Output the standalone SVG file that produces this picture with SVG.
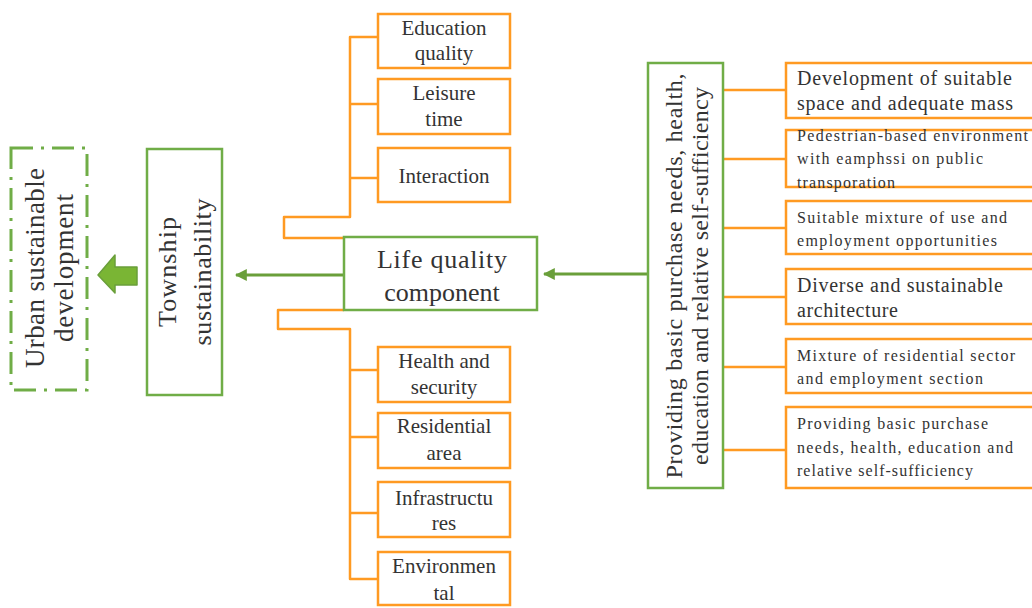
<svg xmlns="http://www.w3.org/2000/svg" width="1032" height="608" viewBox="0 0 1032 608">
<defs>
<style>
.g{fill:#fff;stroke:#70AD47;stroke-width:2.5}
.o{fill:#fff;stroke:#FF9A22;stroke-width:2.5}
.ol{fill:none;stroke:#FF9A22;stroke-width:2.5;stroke-linejoin:round}
.gl{fill:none;stroke:#6A9F3A;stroke-width:3}
.t text{fill:#333}
.c{text-anchor:middle}
.big{font-size:26px}
.mid{font-size:21px}
.r1{font-size:20px}
.r2{font-size:16px}
</style>
<marker id="ah" viewBox="0 0 10 10" refX="9" refY="5" markerWidth="4" markerHeight="4" orient="auto-start-reverse">
<path d="M0,0 L10,5 L0,10 z" fill="#6A9F3A"/>
</marker>
</defs>
<rect width="1032" height="608" fill="#fff"/>

<g id="connectors">
<polyline class="ol" points="345,238 284,238 284,217 350,217 350,37 378,37"/>
<line class="ol" x1="350" y1="104" x2="378" y2="104"/>
<line class="ol" x1="350" y1="178" x2="378" y2="178"/>
<polyline class="ol" points="344,310 278,310 278,329 350,329 350,579 378,579"/>
<line class="ol" x1="350" y1="370" x2="378" y2="370"/>
<line class="ol" x1="350" y1="437" x2="378" y2="437"/>
<line class="ol" x1="350" y1="513" x2="378" y2="513"/>
<line class="ol" x1="723" y1="90" x2="786" y2="90"/>
<line class="ol" x1="723" y1="159" x2="786" y2="159"/>
<line class="ol" x1="723" y1="228" x2="786" y2="228"/>
<line class="ol" x1="723" y1="297" x2="786" y2="297"/>
<line class="ol" x1="723" y1="367" x2="786" y2="367"/>
<line class="ol" x1="723" y1="450" x2="786" y2="450"/>
<line class="gl" x1="343" y1="275" x2="236" y2="275" marker-end="url(#ah)"/>
<line class="gl" x1="648" y1="274" x2="544" y2="274" marker-end="url(#ah)"/>
<path d="M98,275 L115,255 L115,267 L137,267 L137,285 L115,285 L115,293 z" fill="#7AB534" stroke="#6A9F3A" stroke-width="1.5" stroke-linejoin="round"/>
</g>

<g class="t" font-family="'Liberation Serif', 'DejaVu Serif', serif">
<g id="urban">
<rect x="11" y="148" width="76" height="242" fill="none" stroke="#70AD47" stroke-width="3" stroke-dasharray="22 8 3 8"/>
<g transform="translate(48,268) rotate(-90)">
<text class="c" x="0" y="-4" font-size="27" textLength="200">Urban sustainable</text>
<text class="c" x="0" y="25" font-size="27" textLength="148">development</text>
</g>
</g>

<g id="township">
<rect class="g" x="147" y="149" width="75" height="246"/>
<g transform="translate(185,272) rotate(-90)">
<text class="c" x="0" y="-9" font-size="26" textLength="110">Township</text>
<text class="c" x="0" y="26" font-size="26" textLength="147">sustainability</text>
</g>
</g>

<g id="lifequality">
<rect class="g" x="344" y="237" width="193" height="73"/>
<text class="c big" x="442" y="268" textLength="130">Life quality</text>
<text class="c big" x="442" y="301">component</text>
</g>

<g id="education"><rect class="o" x="378" y="14" width="132" height="54"/>
<text class="c mid" x="444" y="35">Education</text><text class="c mid" x="444" y="60">quality</text></g>
<g id="leisure"><rect class="o" x="378" y="79" width="132" height="55"/>
<text class="c mid" x="444" y="100">Leisure</text><text class="c mid" x="444" y="126">time</text></g>
<g id="interaction"><rect class="o" x="378" y="148" width="132" height="54"/>
<text class="c mid" x="444" y="183">Interaction</text></g>
<g id="health"><rect class="o" x="378" y="347" width="132" height="55"/>
<text class="c mid" x="444" y="368">Health and</text><text class="c mid" x="444" y="394">security</text></g>
<g id="residential"><rect class="o" x="378" y="413" width="132" height="55"/>
<text class="c mid" x="444" y="433">Residential</text><text class="c mid" x="444" y="460">area</text></g>
<g id="infrastructures"><rect class="o" x="378" y="482" width="132" height="55"/>
<text class="c mid" x="444" y="505">Infrastructu</text><text class="c mid" x="444" y="530">res</text></g>
<g id="environmental"><rect class="o" x="378" y="552" width="132" height="53"/>
<text class="c mid" x="444" y="573">Environmen</text><text class="c mid" x="444" y="600">tal</text></g>

<g id="providing">
<rect class="g" x="648" y="63" width="75" height="425"/>
<g transform="translate(685,276) rotate(-90)">
<text class="c" x="0" y="-3" font-size="24" textLength="405">Providing basic purchase needs, health,</text>
<text class="c" x="0" y="23" font-size="24" textLength="378">education and relative self-sufficiency</text>
</g>
</g>

<g id="r1"><rect class="o" x="786" y="63" width="260" height="55"/>
<text class="r1" x="797" y="85" textLength="215">Development of suitable</text>
<text class="r1" x="797" y="110" textLength="216">space and adequate mass</text></g>
<g id="r2"><rect class="o" x="786" y="130" width="260" height="57"/>
<text class="r2" x="797" y="141" textLength="231">Pedestrian-based environment</text>
<text class="r2" x="797" y="164" textLength="186">with eamphssi on public</text>
<text class="r2" x="797" y="188" textLength="98">transporation</text></g>
<g id="r3"><rect class="o" x="786" y="201" width="260" height="53"/>
<text class="r2" x="797" y="223" textLength="210">Suitable mixture of use and</text>
<text class="r2" x="797" y="246" textLength="200">employment opportunities</text></g>
<g id="r4"><rect class="o" x="786" y="269" width="260" height="55"/>
<text class="r1" x="797" y="292" textLength="206">Diverse and sustainable</text>
<text class="r1" x="797" y="317" textLength="101">architecture</text></g>
<g id="r5"><rect class="o" x="786" y="339" width="260" height="54"/>
<text class="r2" x="797" y="361" textLength="218">Mixture of residential sector</text>
<text class="r2" x="797" y="384" textLength="186">and employment section</text></g>
<g id="r6"><rect class="o" x="786" y="407" width="260" height="81"/>
<text class="r2" x="797" y="429" textLength="191">Providing basic purchase</text>
<text class="r2" x="797" y="453" textLength="216">needs, health, education and</text>
<text class="r2" x="797" y="476" textLength="176">relative self-sufficiency</text></g>
</g>
</svg>
